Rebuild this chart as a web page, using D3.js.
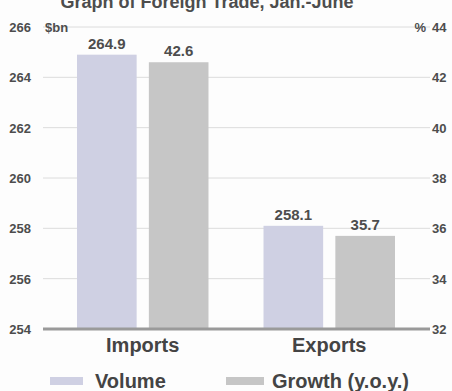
<!DOCTYPE html>
<html><head><meta charset="utf-8">
<script src="https://cdn.jsdelivr.net/npm/d3@7"></script>
<style>body{margin:0;background:#fdfdfd;}svg{display:block;}</style>
</head><body><svg id="c" width="452" height="391"></svg>
<script>
const categories = ["Imports", "Exports"];
const volume = [264.9, 258.1];
const growth = [42.6, 35.7];
const leftTicks = [254, 256, 258, 260, 262, 264, 266];
const rightTicks = [32, 34, 36, 38, 40, 42, 44];
const seriesNames = ["Volume", "Growth (y.o.y.)"];
const colors = ["#cfd0e3", "#c6c6c6"];
const title = "Graph of Foreign Trade, Jan.-June";

const svg = d3.select("#c");
const font = "'Liberation Sans', Arial, Helvetica, sans-serif";
const txt = "#4d4d4d";
const x0 = 43, x1 = 430, yTop = 27, yBot = 329;

const yL = d3.scaleLinear().domain([254, 266]).range([yBot, yTop]);
const yR = d3.scaleLinear().domain([32, 44]).range([yBot, yTop]);
const xC = d3.scaleBand().domain(categories).range([77, 395]).paddingInner(0.295).paddingOuter(0);
const xS = d3.scaleBand().domain([0, 1]).range([0, xC.bandwidth()]).paddingInner(0.17);

svg.append("text").attr("x", 207).attr("y", 8).attr("text-anchor", "middle")
  .attr("font-family", font).attr("font-weight", "bold").attr("font-size", 18).attr("fill", txt).text(title);

// gridlines
svg.append("g").selectAll("line").data(leftTicks.slice(1)).join("line")
  .attr("x1", x0).attr("x2", x1).attr("y1", d => yL(d)).attr("y2", d => yL(d))
  .attr("stroke", "#dcdcdc").attr("stroke-width", 1);

// left axis
const gl = svg.append("g").attr("transform", `translate(31,0)`)
  .call(d3.axisLeft(yL).tickValues(leftTicks).tickSize(0).tickPadding(0).tickFormat(d3.format("d")));
gl.select(".domain").remove();
gl.selectAll("text").attr("font-family", font).attr("font-weight", "bold").attr("font-size", 13).attr("fill", txt).attr("dy", "0.35em");
// right axis
const gr = svg.append("g").attr("transform", `translate(432,0)`)
  .call(d3.axisRight(yR).tickValues(rightTicks).tickSize(0).tickPadding(0).tickFormat(d3.format("d")));
gr.select(".domain").remove();
gr.selectAll("text").attr("font-family", font).attr("font-weight", "bold").attr("font-size", 13).attr("fill", txt).attr("dy", "0.35em");

svg.append("text").attr("x", 45).attr("y", yL(266)).attr("dy", "0.35em").attr("font-family", font)
  .attr("font-weight", "bold").attr("font-size", 13).attr("fill", txt).text("$bn");
svg.append("text").attr("x", 426).attr("y", yR(44)).attr("dy", "0.35em").attr("text-anchor", "end").attr("font-family", font)
  .attr("font-weight", "bold").attr("font-size", 13).attr("fill", txt).text("%");

// bars
const g = svg.append("g");
categories.forEach((c, i) => {
  const vals = [{v: volume[i], y: yL, s: 0}, {v: growth[i], y: yR, s: 1}];
  vals.forEach(o => {
    const bx = xC(c) + xS(o.s);
    g.append("rect").attr("x", bx).attr("width", xS.bandwidth())
      .attr("y", o.y(o.v)).attr("height", yBot - o.y(o.v)).attr("fill", colors[o.s]);
    g.append("text").attr("x", bx + xS.bandwidth() / 2).attr("y", o.y(o.v) - 6).attr("text-anchor", "middle")
      .attr("font-family", font).attr("font-weight", "bold").attr("font-size", 15).attr("fill", txt).text(d3.format(".1f")(o.v));
  });
  svg.append("text").attr("x", xC(c) + xC.bandwidth() / 2).attr("y", 352).attr("text-anchor", "middle")
    .attr("font-family", font).attr("font-weight", "bold").attr("font-size", 20).attr("fill", "#444").text(c);
});

// baseline
svg.append("line").attr("x1", x0).attr("x2", x1).attr("y1", yBot).attr("y2", yBot)
  .attr("stroke", "#9a9a9a").attr("stroke-width", 3);

// legend
const leg = [{x: 50, tx: 95}, {x: 226, tx: 272}];
seriesNames.forEach((n, i) => {
  svg.append("rect").attr("x", leg[i].x).attr("y", 377).attr("width", i ? 38 : 33).attr("height", 8).attr("fill", colors[i]);
  svg.append("text").attr("x", leg[i].tx).attr("y", 388).attr("font-family", font).attr("font-weight", "bold")
    .attr("font-size", 20).attr("fill", "#444").text(n);
});
</script></body></html>
